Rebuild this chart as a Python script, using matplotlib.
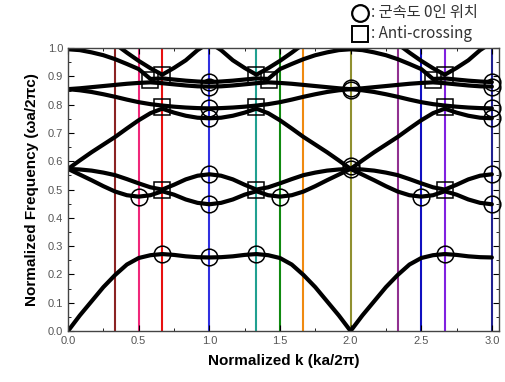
import numpy as np
import matplotlib
matplotlib.use('Agg')
import matplotlib.pyplot as plt
from matplotlib.lines import Line2D
from matplotlib.ticker import MultipleLocator

plt.rcParams['font.family'] = ['Liberation Sans', 'DejaVu Sans']

# normalized k sample positions, 0 .. 3 in steps of 1/12
k = np.arange(37) / 12

# band values
band1 = [0.000, 0.055, 0.105, 0.155, 0.198, 0.235, 0.258, 0.268, 0.272, 0.269, 0.264, 0.261, 0.260,
         0.261, 0.264, 0.269, 0.272, 0.268, 0.258, 0.235, 0.198, 0.155, 0.105, 0.055, 0.000,
         0.055, 0.105, 0.155, 0.198, 0.235, 0.258, 0.268, 0.272, 0.269, 0.264, 0.261, 0.260]
band2 = [0.573, 0.553, 0.533, 0.512, 0.493, 0.480, 0.475, 0.480, 0.494, 0.482, 0.465, 0.453, 0.448,
         0.453, 0.465, 0.482, 0.494, 0.480, 0.475, 0.480, 0.493, 0.512, 0.533, 0.553, 0.573,
         0.553, 0.533, 0.512, 0.493, 0.480, 0.475, 0.480, 0.494, 0.482, 0.465, 0.453, 0.448]
band3 = [0.573, 0.571, 0.567, 0.560, 0.551, 0.537, 0.522, 0.508, 0.500, 0.517, 0.536, 0.549, 0.554,
         0.549, 0.536, 0.517, 0.500, 0.508, 0.522, 0.537, 0.551, 0.560, 0.567, 0.571, 0.573,
         0.571, 0.567, 0.560, 0.551, 0.537, 0.522, 0.508, 0.500, 0.517, 0.536, 0.549, 0.554]
band4 = [0.573, 0.603, 0.632, 0.659, 0.686, 0.716, 0.745, 0.770, 0.786, 0.772, 0.761, 0.754, 0.752,
         0.754, 0.761, 0.772, 0.786, 0.770, 0.745, 0.716, 0.686, 0.659, 0.632, 0.603, 0.573,
         0.603, 0.632, 0.659, 0.686, 0.716, 0.745, 0.770, 0.786, 0.772, 0.761, 0.754, 0.752]
band5 = [0.855, 0.851, 0.845, 0.837, 0.828, 0.818, 0.809, 0.802, 0.797, 0.793, 0.790, 0.788, 0.787,
         0.788, 0.790, 0.793, 0.797, 0.802, 0.809, 0.818, 0.828, 0.837, 0.845, 0.851, 0.855,
         0.851, 0.845, 0.837, 0.828, 0.818, 0.809, 0.802, 0.797, 0.793, 0.790, 0.788, 0.787]
band6 = [0.855, 0.858, 0.862, 0.866, 0.870, 0.874, 0.877, 0.879, 0.876, 0.872, 0.868, 0.865, 0.864,
         0.865, 0.868, 0.872, 0.876, 0.879, 0.877, 0.874, 0.870, 0.866, 0.862, 0.858, 0.855,
         0.858, 0.862, 0.866, 0.870, 0.874, 0.877, 0.879, 0.876, 0.872, 0.868, 0.865, 0.864]
band7 = [0.996, 0.993, 0.985, 0.975, 0.961, 0.944, 0.926, 0.891, 0.893, 0.889, 0.885, 0.882, 0.880,
         0.882, 0.885, 0.889, 0.893, 0.891, 0.926, 0.944, 0.961, 0.975, 0.985, 0.993, 0.996,
         0.993, 0.985, 0.975, 0.961, 0.944, 0.926, 0.891, 0.893, 0.889, 0.885, 0.882, 0.880]
band8 = [1.130, 1.110, 1.085, 1.050, 1.015, 0.984, 0.955, 0.929, 0.906, 0.930, 0.957, 0.993, 1.020,
         0.993, 0.957, 0.930, 0.906, 0.929, 0.955, 0.984, 1.015, 1.050, 1.085, 1.110, 1.130,
         1.110, 1.085, 1.050, 1.015, 0.984, 0.955, 0.929, 0.906, 0.930, 0.957, 0.993, 1.020]
bands = [band1, band2, band3, band4, band5, band6, band7, band8]

# zero group velocity points (circles)
circ_k = [2/3, 1, 4/3, 8/3, 0.5, 1, 1, 1.5, 2, 2, 2.5, 3, 3,
          1, 1, 3, 3, 1, 1, 2, 2, 3, 3]
circ_f = [0.272, 0.260, 0.272, 0.272, 0.475, 0.554, 0.448, 0.475, 0.573, 0.582, 0.475, 0.554, 0.448,
          0.787, 0.752, 0.787, 0.752, 0.880, 0.864, 0.851, 0.859, 0.880, 0.864]

# anti-crossing points (squares)
sq_k = [2/3, 4/3, 8/3, 2/3, 4/3, 8/3, 0.58, 2/3, 4/3, 1.42, 2.58, 8/3]
sq_f = [0.497, 0.497, 0.497, 0.792, 0.792, 0.792, 0.887, 0.905, 0.905, 0.887, 0.887, 0.905]

# coloured vertical lines
vline_k = [1/3, 0.5, 2/3, 1, 4/3, 1.5, 5/3, 2, 7/3, 2.5, 8/3, 3]
vline_c = ['#8b2323', '#f0287a', '#e81010', '#3030e0', '#20a090', '#108a10',
           '#f08a10', '#909030', '#903090', '#1010c0', '#8020e0', '#202090']

fig = plt.figure(figsize=(5.05, 3.82), dpi=100)
ax = fig.add_axes([0.1347, 0.1335, 0.8533, 0.7405])

for kv, c in zip(vline_k, vline_c):
    ax.axvline(kv, color=c, lw=1.5, zorder=1)

for b in bands:
    ax.plot(k, b, color='black', lw=3, solid_capstyle='round', zorder=2)

ax.plot(circ_k, circ_f, 'o', ms=12, mfc='none', mec='black', mew=1.1, zorder=3, clip_on=False)
ax.plot(sq_k, sq_f, 's', ms=11, mfc='none', mec='black', mew=1.1, zorder=3)

ax.set_xlim(0, 3.05)
ax.set_ylim(0, 1)
ax.xaxis.set_minor_locator(MultipleLocator(0.25))
ax.yaxis.set_minor_locator(MultipleLocator(0.05))
ax.tick_params(which='both', direction='in', top=True, right=True, labelsize=8, labelcolor='#555555')
ax.tick_params(which='major', length=4)
ax.tick_params(which='minor', length=2)
ax.set_xticks([0, 0.5, 1, 1.5, 2, 2.5, 3])
ax.set_xticklabels(['0.0', '0.5', '1.0', '1.5', '2.0', '2.5', '3.0'])
ax.set_yticks([0, 0.1, 0.2, 0.3, 0.4, 0.5, 0.6, 0.7, 0.8, 0.9, 1.0])
ax.set_yticklabels(['0.0', '0.1', '0.2', '0.3', '0.4', '0.5', '0.6', '0.7', '0.8', '0.9', '1.0'])
for s in ax.spines.values():
    s.set_color('#444444')
    s.set_linewidth(1)

ax.set_xlabel('Normalized k (ka/2\u03c0)', fontsize=11, fontweight='bold', labelpad=6)
ax.set_ylabel('Normalized Frequency (\u03c9a/2\u03c0c)', fontsize=11, fontweight='bold', labelpad=6)

# legend outside the axes, top right
fig.add_artist(Line2D([0.712], [0.967], marker='o', ms=12, mfc='none', mec='black', mew=1.6,
                      transform=fig.transFigure))
fig.add_artist(Line2D([0.712], [0.912], marker='s', ms=11, mfc='none', mec='black', mew=1.4,
                      transform=fig.transFigure))
fig.text(0.735, 0.967, ': 군속도 0인 위치', fontsize=11, color='#333333', va='center',
         family=['Noto Sans CJK KR', 'DejaVu Sans'])
fig.text(0.735, 0.912, ': Anti-crossing', fontsize=11, color='#333333', va='center',
         family=['Noto Sans CJK KR', 'DejaVu Sans'])

fig.savefig('out.png', dpi=100)
